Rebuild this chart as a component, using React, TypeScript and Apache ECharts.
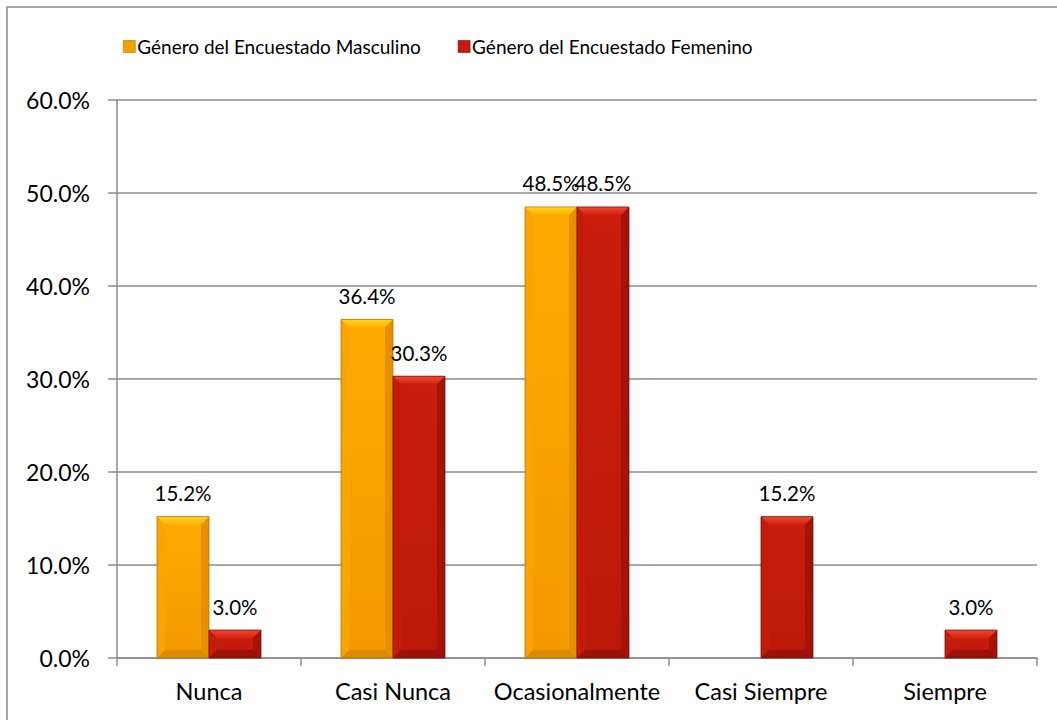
import React, { useEffect, useRef } from "react";
import * as echarts from "echarts";

const categories = ["Nunca", "Casi Nunca", "Ocasionalmente", "Casi Siempre", "Siempre"];
const seriesNames = ["Género del Encuestado Masculino", "Género del Encuestado Femenino"];
const masculino: (number | null)[] = [15.2, 36.4, 48.5, null, null];
const femenino: (number | null)[] = [3.0, 30.3, 48.5, 15.2, 3.0];
const yTicks = { min: 0, max: 60, interval: 10 };

const FONT = "Lato";
const CAT_GAP = 0.435;

type Pal = { face0: string; face1: string; top0: string; top1: string; left: string; right: string; bottom: string; edge: string };
const palettes: Pal[] = [
  { face0: "#FFA900", face1: "#F49A00", top0: "#FFD820", top1: "#FFB000", left: "#FBA400", right: "#E48E00", bottom: "#DC8A00", edge: "#B87400" },
  { face0: "#CA1D0C", face1: "#BC180A", top0: "#EE4A34", top1: "#D0220E", left: "#C41B0B", right: "#A31308", bottom: "#9A1107", edge: "#7A0E05" },
];

function makeRender(seriesIdx: number) {
  const pal = palettes[seriesIdx];
  return (params: any, api: any) => {
    const idx = api.value(0);
    const val = api.value(1);
    if (val == null || isNaN(val)) return null;
    const [cx, y0] = api.coord([idx, 0]);
    const [, y1] = api.coord([idx, val]);
    const band = api.size([1, 0])[0];
    const bw = (band * (1 - CAT_GAP)) / 2;
    const x0 = seriesIdx === 0 ? cx - bw : cx;
    const x1 = x0 + bw;
    const h = y0 - y1;
    const b = Math.min(8, h / 2, bw / 2);
    const faceGrad = new echarts.graphic.LinearGradient(0, 0, 0, 1, [
      { offset: 0, color: pal.face0 },
      { offset: 1, color: pal.face1 },
    ]);
    const topGrad = new echarts.graphic.LinearGradient(0, 0, 0, 1, [
      { offset: 0, color: pal.top0 },
      { offset: 1, color: pal.top1 },
    ]);
    return {
      type: "group",
      children: [
        { type: "rect", shape: { x: x0, y: y1, width: bw, height: h }, style: { fill: faceGrad } },
        { type: "polygon", shape: { points: [[x0, y1], [x1, y1], [x1 - b, y1 + b], [x0 + b, y1 + b]] }, style: { fill: topGrad } },
        { type: "polygon", shape: { points: [[x0, y1], [x0 + b, y1 + b], [x0 + b, y0 - b], [x0, y0]] }, style: { fill: pal.left } },
        { type: "polygon", shape: { points: [[x1, y1], [x1 - b, y1 + b], [x1 - b, y0 - b], [x1, y0]] }, style: { fill: pal.right } },
        { type: "polygon", shape: { points: [[x0, y0], [x0 + b, y0 - b], [x1 - b, y0 - b], [x1, y0]] }, style: { fill: pal.bottom } },
        { type: "rect", shape: { x: x0, y: y1, width: bw, height: h }, style: { fill: "none", stroke: pal.edge, lineWidth: 0.8 } },
        {
          type: "text",
          style: {
            text: `${Number(val).toFixed(1)}%`,
            x: (x0 + x1) / 2,
            y: y1 - 23.5,
            align: "center",
            verticalAlign: "middle",
            textAlign: "center",
            textVerticalAlign: "middle",
            fontFamily: FONT,
            fontSize: 20.5,
            fill: "#000",
          },
        },
      ],
    };
  };
}

export default function App() {
  const ref = useRef<HTMLDivElement>(null);
  useEffect(() => {
    if (!ref.current) return;
    const chart = echarts.init(ref.current, null, { renderer: "svg" });
    const toData = (arr: (number | null)[]) =>
      arr.map((v, i) => [i, v] as [number, number | null]).filter((d) => d[1] != null);
    chart.setOption({
      animation: false,
      backgroundColor: "#fff",
      textStyle: { fontFamily: FONT },
      graphic: [
        {
          type: "rect",
          shape: { x: 7, y: 7, width: 1080, height: 740 },
          style: { fill: "none", stroke: "#8a8a8a", lineWidth: 1.5 },
          silent: true,
        },
      ],
      legend: {
        left: 118,
        top: 32,
        itemWidth: 12,
        itemHeight: 12,
        itemGap: 37,
        textStyle: { fontFamily: FONT, fontSize: 19, color: "#000", padding: [0, 0, 0, -3] },
        data: [
          { name: seriesNames[0], icon: "rect", itemStyle: { color: "#F5A000", borderColor: "#B87200", borderWidth: 0.6 } },
          { name: seriesNames[1], icon: "rect", itemStyle: { color: "#C41B0C", borderColor: "#7A0E05", borderWidth: 0.6 } },
        ],
      },
      grid: { left: 117, right: 20, top: 100, bottom: 62, containLabel: false },
      xAxis: {
        type: "category",
        data: categories,
        axisLine: { lineStyle: { color: "#8c8c8c", width: 1.5 } },
        axisTick: { show: true, length: 8, lineStyle: { color: "#8c8c8c", width: 1.5 } },
        axisLabel: { fontFamily: FONT, fontSize: 23.5, color: "#000", margin: 21, interval: 0 },
      },
      yAxis: {
        type: "value",
        min: yTicks.min,
        max: yTicks.max,
        interval: yTicks.interval,
        axisLine: { show: true, lineStyle: { color: "#8c8c8c", width: 1.5 } },
        axisTick: { show: true, length: 9, lineStyle: { color: "#8c8c8c", width: 1.5 } },
        splitLine: { show: true, lineStyle: { color: "#8c8c8c", width: 1.5 } },
        axisLabel: {
          fontFamily: FONT,
          fontSize: 23,
          color: "#000",
          margin: 27,
          formatter: (v: number) => `${v.toFixed(1)}%`,
        },
      },
      series: [
        {
          name: seriesNames[0],
          type: "custom",
          data: toData(masculino),
          encode: { x: 0, y: 1 },
          itemStyle: { color: "#F5A000" },
          renderItem: makeRender(0),
        },
        {
          name: seriesNames[1],
          type: "custom",
          data: toData(femenino),
          encode: { x: 0, y: 1 },
          itemStyle: { color: "#C41B0C" },
          renderItem: makeRender(1),
        },
      ],
    });
    return () => chart.dispose();
  }, []);
  return (
    <div
      ref={ref}
      style={{ position: "fixed", left: 0, top: 0, width: 1057, height: 720 }}
    />
  );
}
